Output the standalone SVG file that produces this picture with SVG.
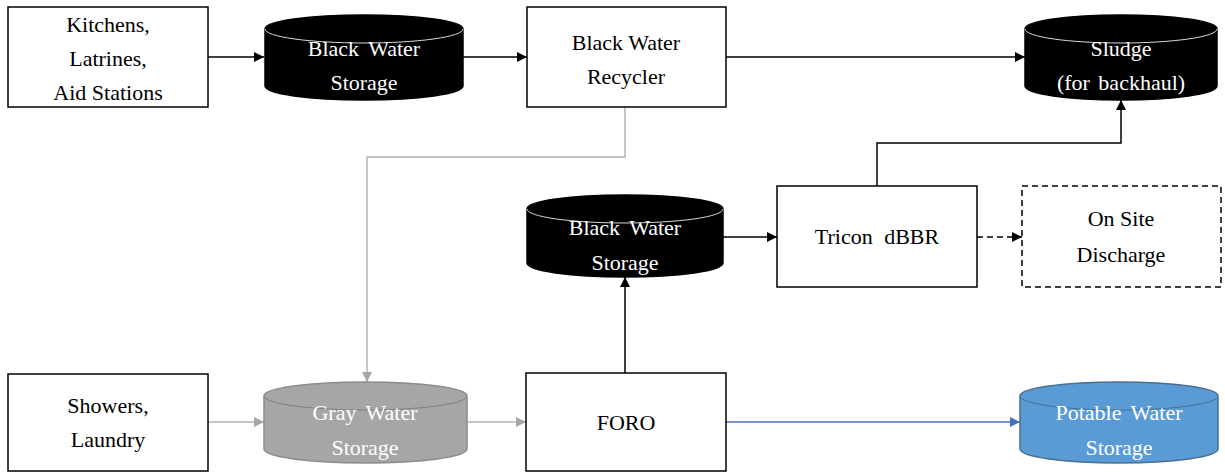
<svg xmlns="http://www.w3.org/2000/svg" width="1225" height="473" viewBox="0 0 1225 473">
  <style>
    .box { fill: #ffffff; stroke: #000000; stroke-width: 1.5; }
    .dash { fill: #ffffff; stroke: #000000; stroke-width: 1.5; stroke-dasharray: 6 4; }
    text { font-size: 22px; text-anchor: middle; }
    .lbl { fill: #000000; }
    .wlbl { fill: #ffffff; }
    .blk { fill: #000000; stroke: #000000; stroke-width: 1.5; }
    .blkTop { fill: none; stroke: #d9d9d9; stroke-width: 1; }
    .gry { fill: #a6a6a6; stroke: #8c8c8c; stroke-width: 1.5; }
    .gryTop { fill: none; stroke: #7f7f7f; stroke-width: 1; }
    .blu { fill: #5b9bd5; stroke: #4a6f8f; stroke-width: 1.5; }
    .bluTop { fill: none; stroke: #41719c; stroke-width: 1; }
    .cK { fill: none; stroke: #000000; stroke-width: 1.5; }
    .cG { fill: none; stroke: #b3b3b3; stroke-width: 1.5; }
    .cB { fill: none; stroke: #4472c4; stroke-width: 1.5; }
  </style>
  <defs>
    <marker id="ahK" viewBox="0 0 10 10" refX="10" refY="5" markerWidth="11" markerHeight="10" markerUnits="userSpaceOnUse" orient="auto">
      <path d="M0,0 L10,5 L0,10 z" fill="#000000"/>
    </marker>
    <marker id="ahG" viewBox="0 0 10 10" refX="10" refY="5" markerWidth="11" markerHeight="10" markerUnits="userSpaceOnUse" orient="auto">
      <path d="M0,0 L10,5 L0,10 z" fill="#a6a6a6"/>
    </marker>
    <marker id="ahB" viewBox="0 0 10 10" refX="10" refY="5" markerWidth="11" markerHeight="10" markerUnits="userSpaceOnUse" orient="auto">
      <path d="M0,0 L10,5 L0,10 z" fill="#4472c4"/>
    </marker>
  </defs>

  <g id="connectors">
    <path class="cK" d="M208,57 L264,57" marker-end="url(#ahK)"/>
    <path class="cK" d="M463,57 L527,57" marker-end="url(#ahK)"/>
    <path class="cK" d="M726,57 L1025,57" marker-end="url(#ahK)"/>
    <path class="cG" d="M625,107 L625,157 L367,157 L367,382" marker-end="url(#ahG)"/>
    <path class="cK" d="M877,186 L877,143 L1121,143 L1121,100" marker-end="url(#ahK)"/>
    <path class="cK" d="M723,237 L777,237" marker-end="url(#ahK)"/>
    <path class="cK" d="M977,237 L1022,237" stroke-dasharray="6 4" marker-end="url(#ahK)"/>
    <path class="cK" d="M625,373 L625,277" marker-end="url(#ahK)"/>
    <path class="cG" d="M208,422 L264,422" marker-end="url(#ahG)"/>
    <path class="cG" d="M467,422 L526,422" marker-end="url(#ahG)"/>
    <path class="cB" d="M726,422 L1020,422" marker-end="url(#ahB)"/>
  </g>

  <g font-family="Liberation Serif, Times New Roman, serif">
  <g id="kitchens">
    <rect class="box" x="8" y="7" width="200" height="100"/>
    <text class="lbl" x="108" y="32">Kitchens,</text>
    <text class="lbl" x="108" y="66">Latrines,</text>
    <text class="lbl" x="108" y="100">Aid Stations</text>
  </g>

  <g id="bw-storage-top">
    <path class="blk" d="M265,29 L265,86 A99,14 0 0 0 463,86 L463,29 A99,14 0 0 0 265,29 z"/>
    <path class="blkTop" d="M265,29 A99,14 0 0 0 463,29"/>
    <text class="wlbl" x="364" y="56" word-spacing="4">Black Water</text>
    <text class="wlbl" x="364" y="90">Storage</text>
  </g>

  <g id="bw-recycler">
    <rect class="box" x="527" y="7" width="199" height="100"/>
    <text class="lbl" x="626" y="50">Black Water</text>
    <text class="lbl" x="626" y="84">Recycler</text>
  </g>

  <g id="sludge">
    <path class="blk" d="M1025,29 L1025,86 A96,14 0 0 0 1217,86 L1217,29 A96,14 0 0 0 1025,29 z"/>
    <path class="blkTop" d="M1025,29 A96,14 0 0 0 1217,29"/>
    <text class="wlbl" x="1121" y="56">Sludge</text>
    <text class="wlbl" x="1121" y="90" word-spacing="3">(for backhaul)</text>
  </g>

  <g id="bw-storage-mid">
    <path class="blk" d="M527,209 L527,263 A98,14 0 0 0 723,263 L723,209 A98,14 0 0 0 527,209 z"/>
    <path class="blkTop" d="M527,209 A98,14 0 0 0 723,209"/>
    <text class="wlbl" x="625" y="235" word-spacing="4">Black Water</text>
    <text class="wlbl" x="625" y="270">Storage</text>
  </g>

  <g id="tricon">
    <rect class="box" x="777" y="186" width="200" height="101"/>
    <text class="lbl" x="877" y="244" word-spacing="6">Tricon dBBR</text>
  </g>

  <g id="discharge">
    <rect class="dash" x="1022" y="186" width="199" height="101"/>
    <text class="lbl" x="1121" y="226">On Site</text>
    <text class="lbl" x="1121" y="262">Discharge</text>
  </g>

  <g id="showers">
    <rect class="box" x="8" y="374" width="200" height="97"/>
    <text class="lbl" x="108" y="413">Showers,</text>
    <text class="lbl" x="108" y="447">Laundry</text>
  </g>

  <g id="gray-storage">
    <path class="gry" d="M264,396 L264,449 A101.5,14 0 0 0 467,449 L467,396 A101.5,14 0 0 0 264,396 z"/>
    <path class="gryTop" d="M264,396 A101.5,14 0 0 0 467,396"/>
    <text class="wlbl" x="365" y="420" word-spacing="4">Gray Water</text>
    <text class="wlbl" x="365" y="455">Storage</text>
  </g>

  <g id="foro">
    <rect class="box" x="526" y="373" width="200" height="98"/>
    <text class="lbl" x="626" y="430">FORO</text>
  </g>

  <g id="potable">
    <path class="blu" d="M1020,396 L1020,449 A99,14 0 0 0 1218,449 L1218,396 A99,14 0 0 0 1020,396 z"/>
    <path class="bluTop" d="M1020,396 A99,14 0 0 0 1218,396"/>
    <text class="wlbl" x="1119" y="420" word-spacing="4">Potable Water</text>
    <text class="wlbl" x="1119" y="455">Storage</text>
  </g>
  </g>
</svg>
